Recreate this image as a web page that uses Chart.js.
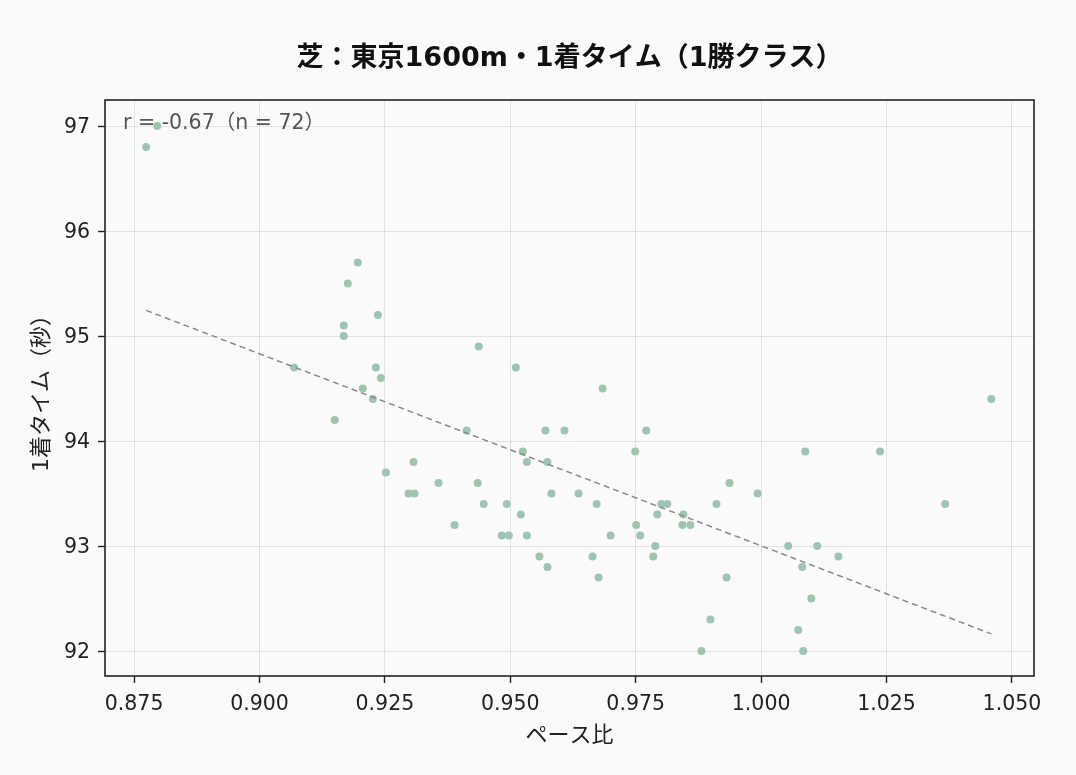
<!DOCTYPE html>
<html lang="ja">
<head>
<meta charset="utf-8">
<title>芝：東京1600m・1着タイム（1勝クラス）</title>
<script src="https://cdn.jsdelivr.net/npm/chart.js@4/dist/chart.umd.min.js"></script>
<style>
    html, body { margin: 0; padding: 0; background: #fafafa; }
    #wrap { width: 1076px; height: 775px; }
</style>
</head>
<body>
<div id="wrap"><canvas id="paceChart"></canvas></div>
<script>
// ペース比（x）
const paceRatio = [
    0.8774, 0.8796, 0.9069, 0.9150, 0.9168, 0.9168, 0.9176, 0.9196, 0.9206, 0.9226,
    0.9232, 0.9236, 0.9242, 0.9252, 0.9297, 0.9309, 0.9307, 0.9357, 0.9389, 0.9413,
    0.9437, 0.9435, 0.9447, 0.9483, 0.9493, 0.9497, 0.9511, 0.9521, 0.9525, 0.9533,
    0.9533, 0.9558, 0.9570, 0.9574, 0.9574, 0.9582, 0.9608, 0.9636, 0.9664, 0.9672,
    0.9676, 0.9684, 0.9700, 0.9749, 0.9751, 0.9759, 0.9771, 0.9785, 0.9789, 0.9793,
    0.9801, 0.9813, 0.9845, 0.9843, 0.9859, 0.9881, 0.9899, 0.9911, 0.9931, 0.9937,
    0.9993, 1.0054, 1.0074, 1.0082, 1.0084, 1.0088, 1.0100, 1.0112, 1.0154, 1.0237,
    1.0367, 1.0459
];
// 1着タイム（秒）
const winTime = [
    96.8, 97.0, 94.7, 94.2, 95.1, 95.0, 95.5, 95.7, 94.5, 94.4,
    94.7, 95.2, 94.6, 93.7, 93.5, 93.5, 93.8, 93.6, 93.2, 94.1,
    94.9, 93.6, 93.4, 93.1, 93.4, 93.1, 94.7, 93.3, 93.9, 93.8,
    93.1, 92.9, 94.1, 93.8, 92.8, 93.5, 94.1, 93.5, 92.9, 93.4,
    92.7, 94.5, 93.1, 93.9, 93.2, 93.1, 94.1, 92.9, 93.0, 93.3,
    93.4, 93.4, 93.3, 93.2, 93.2, 92.0, 92.3, 93.4, 92.7, 93.6,
    93.5, 93.0, 92.2, 92.8, 92.0, 93.9, 92.5, 93.0, 92.9, 93.9,
    93.4, 94.4
];
const xTicks = [0.875, 0.900, 0.925, 0.950, 0.975, 1.000, 1.025, 1.050];
const yTicks = [92, 93, 94, 95, 96, 97];
const titleText = '芝：東京1600m・1着タイム（1勝クラス）';
const statText = 'r = -0.67（n = 72）';

const FONT = '"DejaVu Sans", "Noto Sans CJK JP", sans-serif';

// 回帰直線（最小二乗）
const n = paceRatio.length;
const mx = paceRatio.reduce((a, b) => a + b, 0) / n;
const my = winTime.reduce((a, b) => a + b, 0) / n;
let sxy = 0, sxx = 0;
for (let i = 0; i < n; i++) {
    sxy += (paceRatio[i] - mx) * (winTime[i] - my);
    sxx += (paceRatio[i] - mx) ** 2;
}
const slope = sxy / sxx;
const icpt = my - slope * mx;
const xMin = Math.min(...paceRatio);
const xMax = Math.max(...paceRatio);
const fitLine = [
    { x: xMin, y: icpt + slope * xMin },
    { x: xMax, y: icpt + slope * xMax }
];

const points = paceRatio.map((x, i) => ({ x: x, y: winTime[i] }));

// 背景・タイトル・枠線・r値の表示
const framePlugin = {
    id: 'frame',
    beforeDraw(chart) {
        const c = chart.ctx;
        c.save();
        c.fillStyle = '#fafafa';
        c.fillRect(0, 0, chart.width, chart.height);
        c.restore();
    },
    afterDraw(chart) {
        const { left, top, right, bottom } = chart.chartArea;
        const c = chart.ctx;
        c.save();
        c.strokeStyle = '#222';
        c.lineWidth = 1.6;
        c.strokeRect(left, top, right - left, bottom - top);

        c.fillStyle = '#111';
        c.font = 'bold 27px ' + FONT;
        c.textAlign = 'center';
        c.textBaseline = 'middle';
        c.fillText(titleText, (left + right) / 2, 59);

        c.fillStyle = '#555';
        c.font = '20.5px ' + FONT;
        c.textAlign = 'left';
        c.fillText(statText, left + 18, top + 24);
        c.restore();
    }
};

const ctx = document.getElementById('paceChart').getContext('2d');
new Chart(ctx, {
    data: {
        datasets: [
            {
                type: 'scatter',
                label: 'レース',
                data: points,
                backgroundColor: '#a0c4b4',
                borderWidth: 0,
                pointRadius: 4,
                pointHoverRadius: 5,
                order: 2
            },
            {
                type: 'line',
                label: '回帰直線',
                data: fitLine,
                borderColor: '#8a8a8a',
                borderWidth: 1.5,
                borderDash: [6, 4],
                pointRadius: 0,
                fill: false,
                order: 1
            }
        ]
    },
    options: {
        responsive: true,
        maintainAspectRatio: false,
        animation: false,
        layout: { padding: { top: 100, left: 0, right: 42, bottom: 0 } },
        plugins: {
            legend: { display: false },
            tooltip: { enabled: true },
            title: { display: false }
        },
        scales: {
            x: {
                type: 'linear',
                min: 0.8692,
                max: 1.0544,
                afterBuildTicks: (scale) => { scale.ticks = xTicks.map(v => ({ value: v })); },
                afterFit: (scale) => { scale.height = 99; },
                ticks: {
                    color: '#222',
                    padding: 9,
                    font: { family: FONT, size: 20.5 },
                    callback: (v) => v.toFixed(3)
                },
                grid: { color: 'rgba(0,0,0,0.09)', tickColor: '#222', tickLength: 7, tickWidth: 1.4 },
                border: { display: false },
                title: {
                    display: true,
                    text: 'ペース比',
                    color: '#222',
                    font: { family: FONT, size: 22, lineHeight: 1.2 },
                    padding: { top: 0, bottom: 26 }
                }
            },
            y: {
                type: 'linear',
                min: 91.762,
                max: 97.248,
                afterBuildTicks: (scale) => { scale.ticks = yTicks.map(v => ({ value: v })); },
                afterFit: (scale) => { scale.width = 105; },
                ticks: {
                    color: '#222',
                    padding: 8,
                    labelOffset: 2,
                    font: { family: FONT, size: 20.5 },
                    callback: (v) => String(v)
                },
                grid: { color: 'rgba(0,0,0,0.09)', tickColor: '#222', tickLength: 7, tickWidth: 1.4 },
                border: { display: false },
                title: {
                    display: true,
                    text: '1着タイム（秒）',
                    color: '#222',
                    font: { family: FONT, size: 22, lineHeight: 1.2 },
                    padding: { top: 29, bottom: 0 }
                }
            }
        }
    },
    plugins: [framePlugin]
});
</script>
</body>
</html>
